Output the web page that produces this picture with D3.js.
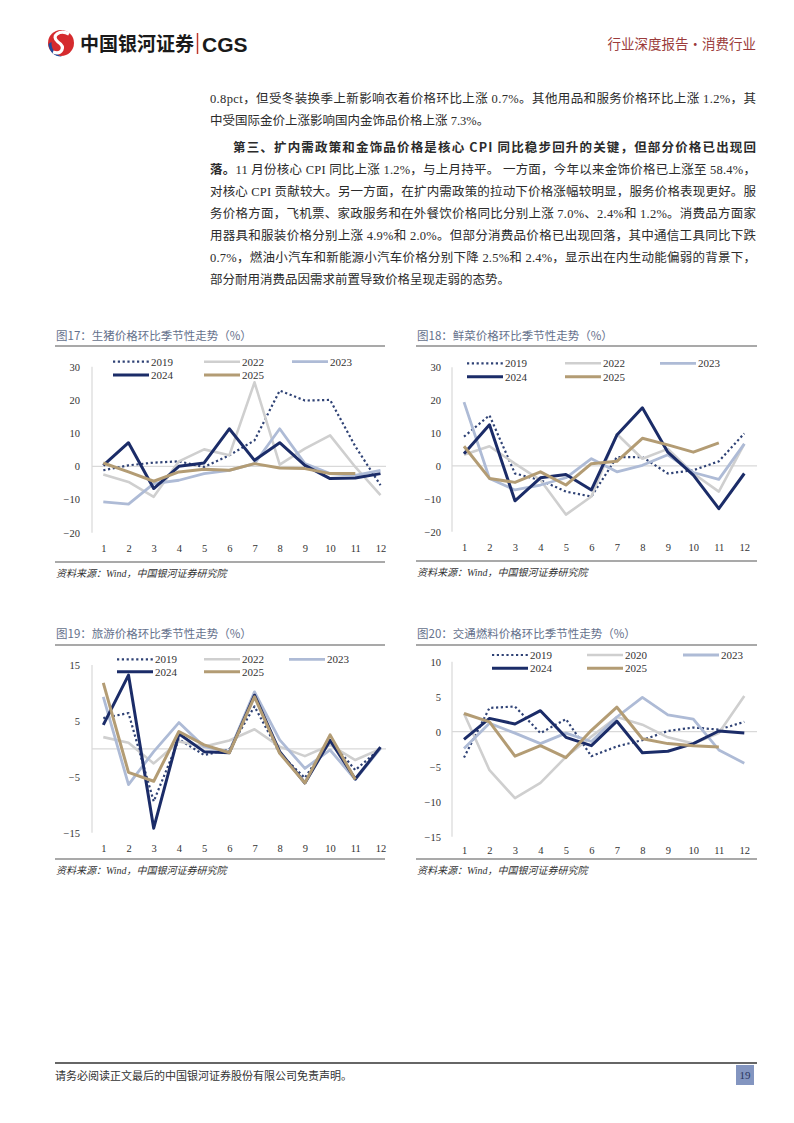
<!DOCTYPE html>
<html><head><meta charset="utf-8">
<script src="https://cdn.jsdelivr.net/npm/d3@7"></script>
<style>body{margin:0;background:#fff}</style>
</head><body><svg id="page" width="794" height="1123" xmlns="http://www.w3.org/2000/svg"></svg>
<script>
// ---------- data ----------
const months = ["1","2","3","4","5","6","7","8","9","10","11","12"];

// 图17 生猪
const pigTicks = [30, 20, 10, 0, -10, -20];
const pigNames = ["2019","2022","2023","2024","2025"];
const pig2019 = [-1.2, 0.3, 1.1, 1.5, -0.2, 3.3, 7.8, 22.8, 19.8, 20.0, 6.0, -5.7];
const pig2022 = [-2.5, -4.7, -9.2, 1.5, 5.1, 3.3, 25.3, 0.5, 5.3, 9.3, -0.2, -8.7];
const pig2023 = [-10.7, -11.4, -5.2, -4.2, -2.2, -1.2, 0.8, 11.3, 0.8, -2.2, -2.7, -1.2];
const pig2024 = [0.3, 7.1, -6.7, 0.0, 1.0, 11.3, 1.8, 7.1, 0.3, -3.7, -3.5, -2.2];
const pig2025 = [1.0, -1.7, -4.5, -1.7, -0.9, -1.2, 0.8, -0.5, -0.7, -2.2, -2.2, null];

// 图18 鲜菜
const vegTicks = [30, 20, 10, 0, -10, -20];
const vegNames = ["2019","2022","2023","2024","2025"];
const veg2019 = [8.9, 15.4, -2.3, -4.3, -7.8, -9.3, 2.7, 2.7, -2.3, -1.3, 1.4, 9.9];
const veg2022 = [3.4, 6.0, 0.7, -4.3, -14.8, -9.3, 9.7, 2.2, 5.2, -2.3, -7.8, 6.7];
const veg2023 = [19.4, -3.8, -7.3, -5.8, -3.6, 2.2, -1.8, 0.2, 3.4, -2.0, -4.1, 6.7];
const veg2024 = [3.7, 12.5, -10.6, -3.6, -2.6, -7.3, 9.4, 17.7, 4.2, -2.8, -13.0, -2.3];
const veg2025 = [6.0, -3.8, -5.0, -1.8, -5.8, 0.7, 1.4, 8.4, 6.4, 4.2, 7.0, null];

// 图19 旅游
const travelTicks = [15, 5, -5, -15];
const travelNames = ["2019","2022","2023","2024","2025"];
const travel2019 = [5.5, 6.4, -9.4, 1.7, -1.1, -0.1, 7.6, -0.8, -5.2, 1.6, -3.8, 0.1];
const travel2022 = [2.1, 1.1, -2.6, 1.3, 0.4, 1.5, 3.5, 0.4, -1.3, 0.7, -2.0, 0.0];
const travel2023 = [9.3, -6.4, -0.5, 4.7, 0.4, -0.5, 10.2, 1.6, -3.5, -0.2, -5.5, 0.1];
const travel2024 = [4.3, 13.2, -14.2, 2.7, -0.5, -0.7, 9.6, -0.5, -6.1, 1.5, -5.4, 0.3];
const travel2025 = [11.8, -4.2, -5.8, 3.1, 0.7, -0.7, 9.3, -0.8, -6.1, 2.5, -5.5, null];

// 图20 交通燃料
const fuelTicks = [10, 5, 0, -5, -10, -15];
const fuelNames = ["2019","2020","2023","2024","2025"];
const fuel2019 = [-3.7, 3.4, 3.6, -0.2, 1.8, -3.5, -2.1, -1.2, 0.1, 0.6, 0.3, 1.4];
const fuel2020 = [2.6, -5.5, -9.5, -7.3, -3.6, -0.7, 2.1, 1.0, -0.8, -1.7, -0.2, 5.1];
const fuel2023 = [-2.4, 1.2, -0.2, -1.7, -0.2, -1.4, 2.1, 4.9, 2.4, 1.8, -2.6, -4.5];
const fuel2024 = [-1.1, 1.9, 1.1, 3.0, -0.8, -2.0, 1.5, -3.0, -2.8, -1.7, 0.1, -0.2];
const fuel2025 = [2.6, 1.4, -3.5, -2.0, -3.7, 0.2, 3.5, -1.0, -1.7, -2.0, -2.2, null];

// ---------- styles ----------
const seriesStyle = [
  {color:"#2f4275", width:2.2, dash:"2.2,2.6"},
  {color:"#cfcfcf", width:2.6, dash:null},
  {color:"#aebbd6", width:2.8, dash:null},
  {color:"#1b2c68", width:3.0, dash:null},
  {color:"#b39c74", width:3.0, dash:null}
];
const serif = "'Liberation Serif','Noto Sans CJK SC',serif";
const cjk = "'Noto Sans CJK SC','Liberation Serif',sans-serif";

const svg = d3.select("#page");
svg.append("rect").attr("width",794).attr("height",1123).attr("fill","#fff");

// ---------- header ----------
const logo = svg.append("g");
logo.append("circle").attr("cx",61).attr("cy",43).attr("r",13).attr("fill","#d52b2e");
logo.append("path").attr("d","M48.5 44 C49 52 55 57 62 56.5 C55 54 51 49 51.5 42 Z").attr("fill","#1f4b9b");
logo.append("path").attr("d","M69 34 C60 29 50 36 58 42 C66 47 62 55 53 52")
  .attr("fill","none").attr("stroke","#fff").attr("stroke-width",3.2);
svg.append("text").attr("x",80).attr("y",51).attr("font-family",cjk).attr("font-weight",700)
  .attr("font-size",19).attr("fill","#1a1a1a").text("中国银河证券");
svg.append("line").attr("x1",197.5).attr("x2",197.5).attr("y1",33).attr("y2",54)
  .attr("stroke","#c0392b").attr("stroke-width",1.5);
svg.append("text").attr("x",202).attr("y",51.5).attr("font-family","'Liberation Sans',Roboto,sans-serif")
  .attr("font-weight",700).attr("font-size",21).attr("fill","#1a1a1a").text("CGS");
svg.append("text").attr("x",756).attr("y",49).attr("text-anchor","end").attr("font-family",cjk)
  .attr("font-size",13.5).attr("fill","#9b3b3b").text("行业深度报告·消费行业");

// ---------- body text ----------
const bodyLines = [
  {y:98, x:210, w:546, parts:[{t:"0.8pct，但受冬装换季上新影响衣着价格环比上涨 0.7%。其他用品和服务价格环比上涨 1.2%，其"}]},
  {y:120, x:210, w:null, parts:[{t:"中受国际金价上涨影响国内金饰品价格上涨 7.3%。"}]},
  {y:147, x:233, w:523, parts:[{t:"第三、扩内需政策和金饰品价格是核心 CPI 同比稳步回升的关键，但部分价格已出现回", b:true}]},
  {y:169, x:210, w:546, parts:[{t:"落。", b:true},{t:"11 月份核心 CPI 同比上涨 1.2%，与上月持平。 一方面，今年以来金饰价格已上涨至 58.4%，"}]},
  {y:191, x:210, w:546, parts:[{t:"对核心 CPI 贡献较大。另一方面，在扩内需政策的拉动下价格涨幅较明显，服务价格表现更好。服"}]},
  {y:213, x:210, w:546, parts:[{t:"务价格方面，飞机票、家政服务和在外餐饮价格同比分别上涨 7.0%、2.4%和 1.2%。消费品方面家"}]},
  {y:235, x:210, w:546, parts:[{t:"用器具和服装价格分别上涨 4.9%和 2.0%。但部分消费品价格已出现回落，其中通信工具同比下跌"}]},
  {y:257, x:210, w:546, parts:[{t:"0.7%，燃油小汽车和新能源小汽车价格分别下降 2.5%和 2.4%，显示出在内生动能偏弱的背景下，"}]},
  {y:279, x:210, w:null, parts:[{t:"部分耐用消费品因需求前置导致价格呈现走弱的态势。"}]}
];
bodyLines.forEach(l => {
  const t = svg.append("text").attr("x",l.x).attr("y",l.y+4.5).attr("font-family",serif)
    .attr("font-size",12.5).attr("fill","#2b2b2b");
  if (l.w) t.attr("textLength",l.w).attr("lengthAdjust","spacing");
  l.parts.forEach(p => t.append("tspan").attr("font-weight",p.b?700:400)
    .attr("font-family", p.b ? cjk : serif).text(p.t));
});

// ---------- chart function ----------
function drawChart(c) {
  const g = svg.append("g");
  g.append("text").attr("x",c.left).attr("y",c.titleY+4).attr("font-family",cjk)
    .attr("font-size",11.5).attr("fill","#65718c").text(c.title);
  g.append("line").attr("x1",c.left-1).attr("x2",c.right).attr("y1",c.topLine).attr("y2",c.topLine)
    .attr("stroke","#555").attr("stroke-width",1.2);
  g.append("line").attr("x1",c.left-1).attr("x2",c.right).attr("y1",c.botLine).attr("y2",c.botLine)
    .attr("stroke","#555").attr("stroke-width",1.2);
  g.append("text").attr("x",c.left).attr("y",c.botLine+15).attr("font-family",serif)
    .attr("font-style","italic").attr("font-size",10).attr("fill","#333")
    .text("资料来源：Wind，中国银河证券研究院");

  const x = d3.scalePoint().domain(months).range(c.xRange);
  const y = d3.scaleLinear().domain(c.yDomain).range(c.yRange);

  g.append("line").attr("x1",c.axisX).attr("x2",c.axisX).attr("y1",y(c.yDomain[1])).attr("y2",y(c.yDomain[0]))
    .attr("stroke","#d9d9d9").attr("stroke-width",1.2);
  g.append("line").attr("x1",c.axisX).attr("x2",c.zeroEnd).attr("y1",y(0)).attr("y2",y(0))
    .attr("stroke","#d9d9d9").attr("stroke-width",1.2);

  const ya = g.append("g").attr("transform",`translate(${c.labelRight},0)`)
    .call(d3.axisLeft(y).tickValues(c.ticks).tickSize(0).tickPadding(0).tickFormat(d3.format("d")));
  ya.select(".domain").remove();
  ya.selectAll("text").attr("font-family",serif).attr("font-size",10.5).attr("fill","#333");

  const xa = g.append("g").attr("transform",`translate(0,${c.xLabelY})`)
    .call(d3.axisBottom(x).tickSize(0).tickPadding(0));
  xa.select(".domain").remove();
  xa.selectAll("text").attr("y",0).attr("dy","0.35em").attr("font-family",serif)
    .attr("font-size",10.5).attr("fill","#333");

  const lineGen = d3.line().defined(d => d.v !== null).x(d => x(d.m)).y(d => y(d.v));
  c.series.forEach((s, i) => {
    const st = seriesStyle[i];
    const pts = s.map((v, j) => ({m: months[j], v}));
    const p = g.append("path").datum(pts).attr("d",lineGen).attr("fill","none")
      .attr("stroke",st.color).attr("stroke-width",st.width).attr("stroke-linejoin","round");
    if (st.dash) p.attr("stroke-dasharray",st.dash);
  });

  c.names.forEach((n, i) => {
    const st = seriesStyle[i];
    const pos = c.legend[i];
    const l = g.append("line").attr("x1",pos[0]).attr("x2",pos[0]+36).attr("y1",pos[1]).attr("y2",pos[1])
      .attr("stroke",st.color).attr("stroke-width",st.width);
    if (st.dash) l.attr("stroke-dasharray",st.dash);
    g.append("text").attr("x",pos[0]+38).attr("y",pos[1]).attr("dy","0.35em")
      .attr("font-family",serif).attr("font-size",11).attr("fill","#333").text(n);
  });
}

drawChart({
  title:"图17：生猪价格环比季节性走势（%）", left:56, right:385, titleY:336, topLine:346, botLine:562,
  xRange:[103.3,380.5], yDomain:[-20,30], yRange:[532.7,366.7], ticks:pigTicks,
  axisX:92, zeroEnd:386, labelRight:80, xLabelY:548,
  series:[pig2019,pig2022,pig2023,pig2024,pig2025], names:pigNames,
  legend:[[113,361.7],[204,361.7],[292,361.7],[113,375],[204,375]]
});
drawChart({
  title:"图18：鲜菜价格环比季节性走势（%）", left:417, right:757, titleY:336, topLine:346, botLine:561,
  xRange:[464,744.3], yDomain:[-20,30], yRange:[531.7,367.3], ticks:vegTicks,
  axisX:452, zeroEnd:757, labelRight:441, xLabelY:547,
  series:[veg2019,veg2022,veg2023,veg2024,veg2025], names:vegNames,
  legend:[[467,363.3],[565,363.3],[660,363.3],[467,376.7],[565,376.7]]
});
drawChart({
  title:"图19：旅游价格环比季节性走势（%）", left:56, right:385, titleY:634, topLine:645, botLine:859,
  xRange:[103.3,380.5], yDomain:[-15,15], yRange:[832.7,665], ticks:travelTicks,
  axisX:92, zeroEnd:386, labelRight:80, xLabelY:848,
  series:[travel2019,travel2022,travel2023,travel2024,travel2025], names:travelNames,
  legend:[[117,659.3],[204,659.3],[289,659.3],[117,671.7],[204,671.7]]
});
drawChart({
  title:"图20：交通燃料价格环比季节性走势（%）", left:417, right:757, titleY:634, topLine:645, botLine:859,
  xRange:[464,744.3], yDomain:[-15,10], yRange:[836.7,661.7], ticks:fuelTicks,
  axisX:452, zeroEnd:757, labelRight:441, xLabelY:850,
  series:[fuel2019,fuel2020,fuel2023,fuel2024,fuel2025], names:fuelNames,
  legend:[[492,655],[587,655],[683,655],[492,668.3],[587,668.3]]
});

// ---------- footer ----------
svg.append("line").attr("x1",55).attr("x2",757).attr("y1",1063).attr("y2",1063)
  .attr("stroke","#333").attr("stroke-width",1.3);
svg.append("text").attr("x",55).attr("y",1080).attr("font-family",cjk).attr("font-size",11)
  .attr("fill","#333").text("请务必阅读正文最后的中国银河证券股份有限公司免责声明。");
svg.append("rect").attr("x",736).attr("y",1065).attr("width",18).attr("height",20).attr("fill","#8395c0");
svg.append("text").attr("x",745).attr("y",1079).attr("text-anchor","middle").attr("font-family",serif)
  .attr("font-size",11).attr("fill","#2a3560").text("19");
</script>
</body></html>
